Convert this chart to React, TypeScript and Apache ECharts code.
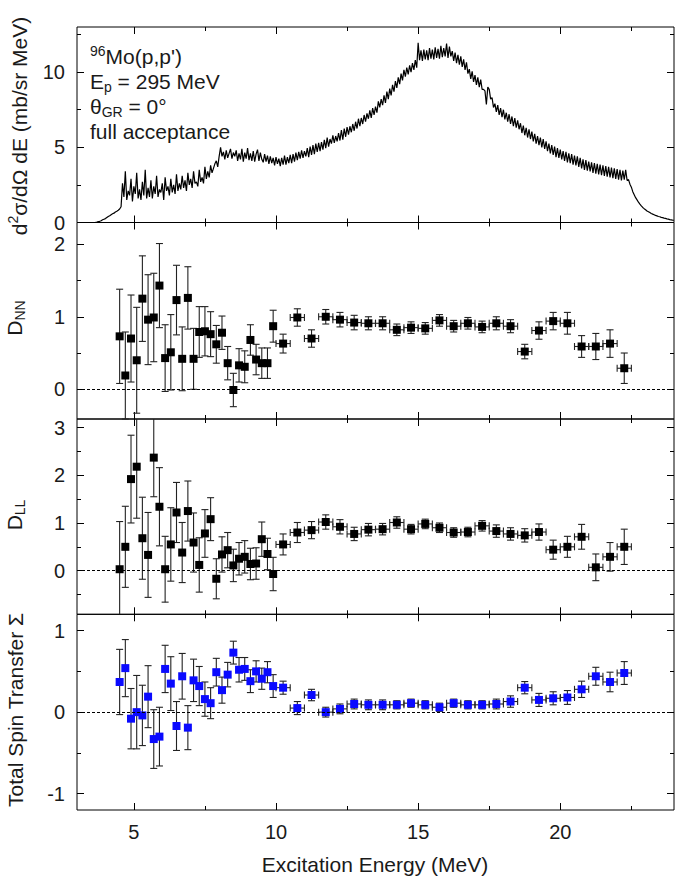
import React, { useEffect, useRef } from 'react';
import * as echarts from 'echarts';

const FONT = '"Liberation Sans", Arial, Helvetica, sans-serif';
const INK = '#1a1a1a';

// Excitation-energy bins of the polarization-transfer data (MeV)
const energies = [
  4.5, 4.7, 4.9, 5.1, 5.3, 5.5, 5.7, 5.9, 6.1, 6.3, 6.5, 6.7, 6.9, 7.1,
  7.3, 7.5, 7.7, 7.9, 8.1, 8.3, 8.5, 8.7, 8.9, 9.1, 9.3, 9.5, 9.7, 9.9,
  10.25, 10.75, 11.25, 11.75, 12.25, 12.75, 13.25, 13.75, 14.25, 14.75,
  15.25, 15.75, 16.25, 16.75, 17.25, 17.75, 18.25, 18.75, 19.25, 19.75,
  20.25, 20.75, 21.25, 21.75, 22.25,
];
// Half width of each bin shown as a horizontal error bar (MeV)
const binHalfWidth = [
  0, 0, 0, 0, 0, 0, 0, 0, 0, 0, 0, 0, 0, 0,
  0, 0, 0, 0, 0, 0, 0, 0, 0, 0, 0, 0, 0, 0,
  0.25, 0.25, 0.25, 0.25, 0.25, 0.25, 0.25, 0.25, 0.25, 0.25,
  0.25, 0.25, 0.25, 0.25, 0.25, 0.25, 0.25, 0.25, 0.25, 0.25,
  0.25, 0.25, 0.25, 0.25, 0.25,
];

const dnn = [
  0.73, 0.19, 0.70, 0.40, 1.25, 0.96, 0.99, 1.43, 0.43, 0.51, 1.23, 0.42, 1.26, 0.42,
  0.79, 0.80, 0.76, 0.62, 0.78, 0.36, -0.01, 0.33, 0.31, 0.68, 0.41, 0.36, 0.36, 0.87,
  0.63, 0.99, 0.70, 1.00, 0.96, 0.92, 0.91, 0.91, 0.82, 0.85, 0.84, 0.95, 0.87, 0.91,
  0.86, 0.91, 0.87, 0.52, 0.81, 0.94, 0.91, 0.59, 0.59, 0.63, 0.29,
];
const dnnErr = [
  0.65, 0.60, 0.60, 0.73, 0.59, 0.62, 0.61, 0.58, 0.46, 0.52, 0.48, 0.44, 0.43, 0.42,
  0.35, 0.34, 0.31, 0.26, 0.23, 0.23, 0.23, 0.23, 0.22, 0.21, 0.21, 0.21, 0.21, 0.22,
  0.13, 0.12, 0.12, 0.10, 0.10, 0.10, 0.09, 0.09, 0.08, 0.08, 0.08, 0.08, 0.08, 0.08,
  0.08, 0.09, 0.09, 0.10, 0.12, 0.12, 0.15, 0.15, 0.18, 0.19, 0.21,
];

const dll = [
  0.03, 0.50, 1.92, 2.18, 0.68, 0.33, 2.37, 1.34, 0.03, 0.55, 1.22, 0.38, 1.25, 0.59,
  0.12, 0.78, 1.08, -0.17, 0.34, 0.43, 0.11, 0.25, 0.29, 0.14, 0.15, 0.66, 0.35, -0.07,
  0.55, 0.80, 0.85, 1.02, 0.92, 0.77, 0.86, 0.87, 1.01, 0.87, 0.98, 0.90, 0.80, 0.81,
  0.94, 0.83, 0.77, 0.74, 0.81, 0.44, 0.50, 0.71, 0.07, 0.29, 0.50,
];
const dllErr = [
  1.00, 0.85, 0.92, 1.08, 0.86, 0.89, 0.82, 0.82, 0.69, 0.77, 0.63, 0.63, 0.63, 0.62,
  0.57, 0.50, 0.45, 0.42, 0.37, 0.37, 0.34, 0.34, 0.34, 0.33, 0.33, 0.36, 0.33, 0.35,
  0.22, 0.21, 0.18, 0.15, 0.15, 0.14, 0.13, 0.12, 0.12, 0.10, 0.10, 0.10, 0.10, 0.10,
  0.11, 0.13, 0.13, 0.14, 0.17, 0.20, 0.22, 0.26, 0.28, 0.30, 0.37,
];

const sigma = [
  0.37, 0.54, -0.08, 0.00, -0.04, 0.19, -0.33, -0.30, 0.53, 0.35, -0.17, 0.44, -0.19, 0.39,
  0.32, 0.16, 0.11, 0.49, 0.27, 0.46, 0.73, 0.52, 0.53, 0.38, 0.50, 0.41, 0.49, 0.32,
  0.30, 0.05, 0.21, 0.00, 0.04, 0.10, 0.09, 0.09, 0.09, 0.11, 0.09, 0.06, 0.11, 0.09,
  0.09, 0.10, 0.13, 0.30, 0.15, 0.17, 0.18, 0.28, 0.44, 0.37, 0.48,
];
const sigmaErr = [
  0.40, 0.35, 0.37, 0.45, 0.37, 0.38, 0.36, 0.36, 0.29, 0.33, 0.30, 0.28, 0.27, 0.26,
  0.24, 0.21, 0.19, 0.17, 0.16, 0.15, 0.14, 0.15, 0.14, 0.14, 0.13, 0.13, 0.13, 0.14,
  0.08, 0.08, 0.07, 0.06, 0.06, 0.06, 0.06, 0.06, 0.05, 0.05, 0.05, 0.05, 0.05, 0.05,
  0.05, 0.06, 0.07, 0.075, 0.08, 0.08, 0.085, 0.10, 0.11, 0.12, 0.14,
];

// Double-differential cross section, 0.05 MeV channels starting at 3.6 MeV (one row per MeV)
const spectrumStart = 3.6;
const spectrumStep = 0.05;
const spectrum = [
  0.00, 0.01, 0.03, 0.06, 0.08, 0.12, 0.18, 0.22, 0.26, 0.33, 0.40, 0.45, 0.52, 0.58, 0.62, 0.70, 0.75, 0.82, 0.90, 1.05,
  2.60, 1.70, 3.40, 1.50, 2.10, 1.80, 2.90, 1.40, 2.40, 1.90, 3.30, 1.60, 2.20, 1.50, 2.70, 1.80, 3.50, 1.60, 2.30, 1.70,
  2.80, 1.60, 2.40, 1.90, 3.10, 1.70, 2.20, 2.00, 2.60, 1.50, 3.00, 2.10, 2.40, 1.80, 2.90, 2.00, 2.50, 1.90, 3.20, 2.10,
  2.60, 2.20, 3.10, 2.30, 2.80, 2.10, 3.30, 2.50, 2.90, 2.30, 3.40, 2.60, 2.70, 2.40, 3.50, 2.70, 3.00, 2.60, 3.70, 2.90,
  3.40, 3.00, 3.80, 3.30, 3.60, 3.90, 4.10, 3.70, 4.40, 5.00, 4.40, 4.70, 4.20, 4.80, 4.30, 4.60, 4.90, 4.25, 4.65, 4.40,
  4.80, 4.10, 4.60, 4.20, 4.90, 4.05, 4.65, 4.25, 4.95, 4.15, 4.60, 4.10, 4.75, 4.05, 4.55, 4.85, 4.10, 4.65, 4.20, 4.00,
  4.55, 4.05, 4.45, 3.90, 4.40, 3.95, 4.30, 3.80, 4.35, 3.90, 4.25, 3.75, 4.30, 3.85, 4.45, 3.85, 4.35, 3.95, 4.50, 3.95,
  4.55, 4.05, 4.65, 4.15, 4.70, 4.25, 4.80, 4.30, 4.75, 4.40, 4.95, 4.35, 5.05, 4.50, 5.15, 4.55, 5.25, 4.70, 5.30, 4.75,
  5.35, 4.85, 5.50, 4.95, 5.65, 5.05, 5.55, 5.25, 5.80, 5.30, 5.75, 5.40, 5.95, 5.45, 6.15, 5.50, 6.25, 5.70, 6.35, 5.85,
  6.40, 6.00, 6.55, 6.10, 6.70, 6.25, 6.90, 6.40, 6.95, 6.55, 7.15, 6.70, 7.25, 6.90, 7.45, 6.95, 7.60, 7.15, 7.70, 7.30,
  8.05, 7.65, 8.20, 7.80, 8.45, 7.95, 8.70, 8.20, 8.90, 8.45, 9.15, 8.70, 9.40, 8.95, 9.65, 9.20, 9.90, 9.45, 10.15, 9.70,
  10.30, 9.85, 10.45, 10.00, 10.60, 10.15, 10.80, 10.30, 11.95, 10.80, 11.45, 10.75, 11.50, 10.85, 11.45, 10.80, 11.60, 10.90, 11.50, 10.85,
  11.65, 10.95, 11.55, 10.90, 11.75, 11.00, 11.60, 11.05, 11.90, 10.95, 11.70, 11.05, 11.40, 10.75, 11.30, 10.60, 11.15, 10.50, 11.05, 10.35,
  10.85, 10.15, 10.65, 9.90, 10.20, 9.55, 10.05, 9.35, 9.80, 9.15, 9.65, 9.00, 9.50, 8.85, 8.85, 8.75, 7.85, 9.00, 8.85, 8.20,
  8.30, 7.65, 7.90, 7.35, 7.80, 7.15, 7.60, 7.00, 7.50, 6.85, 7.30, 6.70, 7.20, 6.55, 7.05, 6.40, 6.95, 6.30, 6.80, 6.20,
  6.60, 5.95, 6.45, 5.80, 6.30, 5.65, 6.20, 5.55, 6.05, 5.40, 5.90, 5.25, 5.75, 5.15, 5.65, 5.00, 5.55, 4.90, 5.40, 4.75,
  5.25, 4.60, 5.15, 4.50, 5.05, 4.35, 4.95, 4.30, 4.85, 4.20, 4.75, 4.10, 4.70, 4.00, 4.60, 3.95, 4.55, 3.85, 4.45, 3.80,
  4.40, 3.70, 4.30, 3.60, 4.20, 3.50, 4.15, 3.45, 4.05, 3.40, 4.00, 3.30, 3.95, 3.25, 3.90, 3.20, 3.85, 3.15, 3.80, 3.10,
  3.75, 3.05, 3.70, 3.00, 3.65, 2.95, 3.60, 2.90, 3.55, 2.85, 3.50, 2.80, 3.45, 2.85, 3.50, 2.80, 2.85, 2.55, 2.35, 2.05,
  1.85, 1.65, 1.50, 1.35, 1.22, 1.10, 1.00, 0.92, 0.85, 0.77, 0.72, 0.66, 0.60, 0.56, 0.52, 0.47, 0.44, 0.40, 0.38, 0.34,
  0.32, 0.29, 0.27, 0.24, 0.22, 0.19, 0.18, 0.16, 0.15,
];

const xMajorTicks = [5, 10, 15, 20];
const xMinorTicks = [7.5, 12.5, 17.5, 22.5];

const X_MIN = 3;
const X_MAX = 24;

// Stacked panels sharing the energy axis
const panels = [
  { top: 27, height: 195.5, min: 0, max: 13, major: [0, 5, 10], minor: [2.5, 7.5, 12.5] },
  { top: 222.5, height: 196.5, min: -0.41, max: 2.3, major: [0, 1, 2], minor: [0.5, 1.5] },
  { top: 419, height: 195.3, min: -0.915, max: 3.18, major: [0, 1, 2, 3], minor: [-0.5, 0.5, 1.5, 2.5] },
  { top: 614.3, height: 195.7, min: -1.2, max: 1.2, major: [-1, 0, 1], minor: [-0.5, 0.5] },
];

const CAP = 3.5;
const BAR_STYLE = { stroke: '#222', lineWidth: 1.1 };

function errorBarRenderer(yMin: number, yMax: number) {
  return (_params: any, api: any) => {
    const x = api.value(0);
    const y = api.value(1);
    const ey = api.value(2);
    const ex = api.value(3);
    const lo = y - ey;
    const hi = y + ey;
    const pLo = api.coord([x, Math.max(lo, yMin)]);
    const pHi = api.coord([x, Math.min(hi, yMax)]);
    const children: any[] = [
      { type: 'line', shape: { x1: pLo[0], y1: pLo[1], x2: pHi[0], y2: pHi[1] }, style: BAR_STYLE },
    ];
    if (lo >= yMin) {
      children.push({ type: 'line', shape: { x1: pLo[0] - CAP, y1: pLo[1], x2: pLo[0] + CAP, y2: pLo[1] }, style: BAR_STYLE });
    }
    if (hi <= yMax) {
      children.push({ type: 'line', shape: { x1: pHi[0] - CAP, y1: pHi[1], x2: pHi[0] + CAP, y2: pHi[1] }, style: BAR_STYLE });
    }
    if (ex > 0) {
      const pL = api.coord([x - ex, y]);
      const pR = api.coord([x + ex, y]);
      children.push({ type: 'line', shape: { x1: pL[0], y1: pL[1], x2: pR[0], y2: pR[1] }, style: BAR_STYLE });
      children.push({ type: 'line', shape: { x1: pL[0], y1: pL[1] - CAP, x2: pL[0], y2: pL[1] + CAP }, style: BAR_STYLE });
      children.push({ type: 'line', shape: { x1: pR[0], y1: pR[1] - CAP, x2: pR[0], y2: pR[1] + CAP }, style: BAR_STYLE });
    }
    return { type: 'group', children };
  };
}

function buildOption() {
  const grids: any[] = [];
  const xAxes: any[] = [];
  const yAxes: any[] = [];

  panels.forEach((p, i) => {
    grids.push({
      left: 77, width: 597, top: p.top, height: p.height,
      show: true, borderColor: '#000', borderWidth: 1, backgroundColor: 'transparent',
    });
    const xAxis = (position: string, values: number[], length: number, showLabel: boolean) => ({
      type: 'value', gridIndex: i, min: X_MIN, max: X_MAX, position,
      axisLine: { show: false, onZero: false },
      splitLine: { show: false },
      axisTick: { show: true, inside: true, length, customValues: values, lineStyle: { color: '#000', width: 1 } },
      axisLabel: showLabel
        ? { show: true, customValues: values, fontSize: 20, color: INK, fontFamily: FONT, margin: 12 }
        : { show: false },
    });
    xAxes.push(
      xAxis('bottom', xMajorTicks, 7, i === panels.length - 1),
      xAxis('bottom', xMinorTicks, 4, false),
      xAxis('top', xMajorTicks, 7, false),
      xAxis('top', xMinorTicks, 4, false),
    );
    const yAxis = (position: string, values: number[], length: number, showLabel: boolean) => ({
      type: 'value', gridIndex: i, min: p.min, max: p.max, position,
      axisLine: { show: false, onZero: false },
      splitLine: { show: false },
      axisTick: { show: true, inside: true, length, customValues: values, lineStyle: { color: '#000', width: 1 } },
      axisLabel: showLabel
        ? { show: true, customValues: values, fontSize: 20, color: INK, fontFamily: FONT, margin: 12 }
        : { show: false },
    });
    yAxes.push(
      yAxis('left', p.major, 7, true),
      yAxis('left', p.minor, 4, false),
      yAxis('right', p.major, 7, false),
      yAxis('right', p.minor, 4, false),
    );
  });

  const series: any[] = [
    {
      type: 'line', xAxisIndex: 0, yAxisIndex: 0,
      data: spectrum.map((v, k) => [Number((spectrumStart + k * spectrumStep).toFixed(2)), v]),
      showSymbol: false, symbol: 'none', silent: true,
      lineStyle: { color: '#000', width: 1.2 },
    },
  ];

  const polarization = [
    { vals: dnn, errs: dnnErr, color: '#000000' },
    { vals: dll, errs: dllErr, color: '#000000' },
    { vals: sigma, errs: sigmaErr, color: '#0a0aff' },
  ];
  polarization.forEach((pp, j) => {
    const i = j + 1;
    const p = panels[i];
    series.push({
      type: 'custom', xAxisIndex: 4 * i, yAxisIndex: 4 * i, silent: true, z: 2,
      data: energies.map((e, k) => [e, pp.vals[k], pp.errs[k], binHalfWidth[k]]),
      encode: { x: 0, y: 1 },
      renderItem: errorBarRenderer(p.min, p.max),
    });
    series.push({
      type: 'scatter', xAxisIndex: 4 * i, yAxisIndex: 4 * i, silent: true, z: 3,
      symbol: 'rect', symbolSize: 8,
      itemStyle: { color: pp.color, opacity: 1 },
      data: energies.map((e, k) => [e, pp.vals[k]]),
      markLine: {
        silent: true, symbol: 'none', label: { show: false },
        lineStyle: { type: [3, 2], color: '#000', width: 1 },
        data: [{ yAxis: 0 }],
      },
    });
  });

  const rich = {
    sup: { fontSize: 14, lineHeight: 8, verticalAlign: 'top', fontFamily: FONT, fill: INK },
    sub: { fontSize: 14, lineHeight: 8, verticalAlign: 'bottom', fontFamily: FONT, fill: INK },
  };
  const title = (text: string, x: number, y: number) => ({
    type: 'text', x, y, rotation: Math.PI / 2, silent: true,
    style: {
      text, fill: INK, fontSize: 21, fontFamily: FONT, lineHeight: 26,
      align: 'center', verticalAlign: 'middle', rich,
    },
  });

  const graphic = [
    {
      type: 'text', x: 90, y: 43.5, silent: true,
      style: {
        text: "{sup|96}Mo(p,p')\nE{sub|p} = 295 MeV\nθ{sub|GR} = 0°\nfull acceptance",
        fill: INK, fontSize: 21, fontFamily: FONT, lineHeight: 25,
        align: 'left', verticalAlign: 'top', rich,
      },
    },
    title('d{sup|2}σ/dΩ dE (mb/sr MeV)', 19, 126),
    title('D{sub|NN}', 14, 318),
    title('D{sub|LL}', 14, 515),
    title('Total Spin Transfer Σ', 15, 710),
    {
      type: 'text', x: 375, y: 864, silent: true,
      style: {
        text: 'Excitation Energy (MeV)', fill: INK, fontSize: 21, fontFamily: FONT,
        align: 'center', verticalAlign: 'middle',
      },
    },
  ];

  return {
    animation: false,
    backgroundColor: '#ffffff',
    textStyle: { fontFamily: FONT },
    grid: grids,
    xAxis: xAxes,
    yAxis: yAxes,
    series,
    graphic,
  };
}

export default function App() {
  const ref = useRef<HTMLDivElement>(null);
  useEffect(() => {
    if (!ref.current) return;
    const chart = echarts.init(ref.current, undefined, { renderer: 'svg' });
    chart.setOption(buildOption() as any);
    return () => chart.dispose();
  }, []);
  return (
    <div
      ref={ref}
      style={{ position: 'absolute', left: 0, top: 0, width: 684, height: 882, background: '#fff' }}
    />
  );
}
